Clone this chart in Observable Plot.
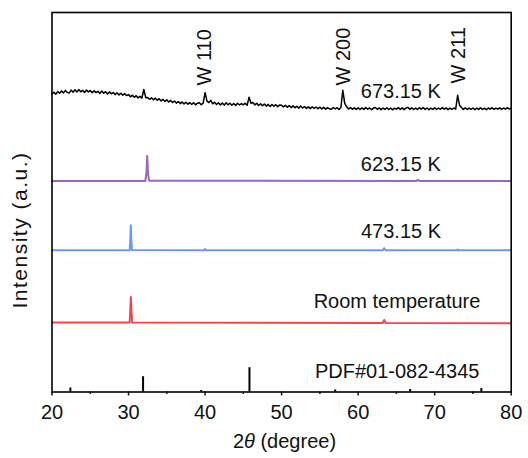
<!DOCTYPE html>
<html><head><meta charset="utf-8">
<script src="https://cdn.jsdelivr.net/npm/d3@7"></script>
<script src="https://cdn.jsdelivr.net/npm/@observablehq/plot@0.6"></script>
<style>body{margin:0;background:#fff}</style>
</head><body><div id="chart"></div>
<script>
// ---- data ----
const xTicks = [20, 30, 40, 50, 60, 70, 80];
const xMinorTicks = [25, 35, 45, 55, 65, 75];

// 673.15 K scan: intensities (a.u., offset) on a 0.25° grid from 20° to 80°
const scan673Start = 20, scan673Step = 0.25;
const scan673 = [
  298.0, 299.8, 297.9, 300.4, 298.7, 301.1, 299.1, 301.6, 299.6, 298.9, 301.9, 299.8, 302.2, 300.0, 302.4, 300.2, 301.7, 299.5, 302.0, 300.1,
  301.4, 299.2, 301.3, 299.4, 300.7, 298.5, 301.0, 298.8, 300.3, 298.0, 300.1, 298.2, 299.4, 297.4, 299.3, 297.1, 298.8, 296.8, 298.3, 296.4,
  297.4, 295.2, 296.8, 294.7, 296.3, 294.1, 295.7, 293.9, 302.5, 294.3, 294.4, 292.7, 294.2, 292.2, 293.8, 291.8, 293.3, 291.1, 292.7, 290.6,
  292.2, 290.0, 291.6, 289.5, 291.0, 288.9, 290.5, 288.4, 290.1, 288.1, 289.8, 287.8, 289.4, 287.5, 289.2, 287.2, 288.8, 289.3, 287.3, 288.9,
  299.3, 290.9, 289.4, 291.6, 288.2, 289.8, 287.5, 289.2, 287.1, 289.0, 286.9, 289.3, 287.2, 288.8, 286.8, 288.5, 286.6, 288.7, 287.0, 288.4,
  287.2, 288.8, 286.7, 294.8, 288.6, 289.5, 287.1, 288.7, 286.5, 288.2, 286.2, 287.9, 285.9, 287.6, 285.6, 287.5, 285.8, 287.3, 285.4, 287.1,
  286.7, 285.1, 286.8, 284.8, 286.4, 284.4, 286.1, 284.2, 285.8, 283.9, 285.9, 284.0, 285.5, 283.6, 285.3, 283.4, 285.1, 283.5, 285.0, 283.3,
  284.8, 283.1, 284.6, 282.9, 284.4, 283.2, 282.7, 284.5, 283.0, 284.3, 282.6, 284.6, 301.7, 288.6, 285.2, 283.0, 284.4, 282.7, 284.2, 282.6,
  284.2, 282.5, 284.1, 282.6, 284.5, 282.8, 284.0, 282.3, 283.9, 284.4, 282.7, 284.1, 282.4, 284.0, 282.6, 284.3, 282.5, 283.9, 282.2, 283.8,
  282.8, 284.4, 282.6, 284.1, 282.4, 284.0, 284.6, 282.7, 284.2, 282.5, 283.9, 282.6, 284.3, 282.8, 284.5, 282.6, 284.0, 282.3, 283.8, 282.7,
  284.2, 282.5, 284.0, 282.7, 284.4, 282.8, 284.1, 282.4, 283.9, 282.6, 284.0, 282.8, 296.7, 286.8, 284.5, 282.6, 284.1, 282.5, 283.9, 282.7,
  284.0, 282.4, 283.9, 282.6, 284.2, 282.7, 283.8, 282.3, 284.0, 282.8, 284.3, 282.6, 283.9, 282.8, 284.2, 282.7, 284.0, 282.9, 284.3, 283.0,
  283.7
];

// [2θ, intensity]
const scan623 = [[20,211],[32.2,211],[32.35,220],[32.44,236],[32.55,218],[32.7,211.3],[67.6,211],[67.8,212.2],[68.0,211],[80,211]];
const scan473 = [[20,141.7],[30.15,141.7],[30.22,150],[30.3,166.7],[30.38,150],[30.45,141.9],[39.85,141.7],[40.0,143.0],[40.15,141.7],
                 [63.2,141.7],[63.4,143.8],[63.6,141.7],[72.9,141.7],[73.0,142.5],[73.1,141.7],[80,141.7]];
const scanRT  = [[20,69.6],[30.15,69.4],[30.22,80],[30.3,95],[30.38,82],[30.48,69.5],[63.2,69],[63.4,72],[63.6,69],[80,68.8]];

// PDF#01-082-4345 reference sticks
const pdfPos = [22.4, 31.9, 39.5, 45.8, 57.0, 66.8, 76.1];
const pdfInt = [4, 15.3, 1.5, 24.3, 2, 2.5, 3.5];

const seriesLabels = ["673.15 K", "623.15 K", "473.15 K", "Room temperature", "PDF#01-082-4345"];
const seriesLabelX = [65.58, 65.58, 65.6, 65.08, 65.1];
const seriesLabelY = [300.1, 227.5, 160.5, 90.8, 20.8];

const peakLabels = ["W 110", "W 200", "W 211"];
const peakLabelX = [40.0, 58.15, 73.1];
const peakLabelY = [306.5, 306.5, 308.5];

// ---- build ----
const black = scan673.map((v, i) => ({x: scan673Start + i * scan673Step, y: v}));
const toXY = a => a.map(([x, y]) => ({x, y}));
const sticks = pdfPos.map((p, i) => ({x: p, y: pdfInt[i]}));
const sLabels = seriesLabels.map((t, i) => ({t, x: seriesLabelX[i], y: seriesLabelY[i]}));
const pLabels = peakLabels.map((t, i) => ({t, x: peakLabelX[i], y: peakLabelY[i]}));

const FONT = "'Liberation Sans', Arial, Helvetica, sans-serif";

const chart = Plot.plot({
  width: 528,
  height: 458,
  marginLeft: 51.5,
  marginRight: 17.3,
  marginTop: 12,
  marginBottom: 66.5,
  style: {fontFamily: FONT, fontSize: "20px", color: "#111", background: "#fff"},
  x: {domain: [20, 80]},
  y: {domain: [0, 379.5], axis: null},
  marks: [
    Plot.axisX(xTicks, {tickSize: 4, tickPadding: 9, strokeWidth: 1.5, fontSize: 20, label: null}),
    Plot.axisX(xMinorTicks, {tickSize: 2.5, strokeWidth: 1.5, tickFormat: () => "", label: null}),
    Plot.ruleX(sticks, {x: "x", y1: 0, y2: "y", stroke: "#000", strokeWidth: 2}),
    Plot.line(toXY(scanRT), {x: "x", y: "y", stroke: "#F0464E", strokeWidth: 2}),
    Plot.line(toXY(scan473), {x: "x", y: "y", stroke: "#6A98F2", strokeWidth: 2}),
    Plot.line(toXY(scan623), {x: "x", y: "y", stroke: "#9C66BC", strokeWidth: 2}),
    Plot.line(black, {x: "x", y: "y", stroke: "#000", strokeWidth: 1.5}),
    Plot.text(sLabels, {x: "x", y: "y", text: "t", fontSize: 20, fill: "#111"}),
    Plot.text(pLabels, {x: "x", y: "y", text: "t", fontSize: 20, rotate: -90, textAnchor: "start", fill: "#111"}),
    Plot.frame({stroke: "#000", strokeWidth: 1.6})
  ]
});

const svg = d3.select(chart);
const xt = svg.append("text")
  .attr("x", 284.5).attr("y", 448)
  .attr("text-anchor", "middle")
  .attr("font-size", 20).attr("fill", "#111");
xt.append("tspan").text("2");
xt.append("tspan").attr("font-style", "italic").text("θ");
xt.append("tspan").text(" (degree)");

svg.append("text")
  .attr("transform", "translate(27,230) rotate(-90)")
  .attr("text-anchor", "middle")
  .attr("font-size", 21)
  .attr("letter-spacing", "1.5px")
  .attr("fill", "#111")
  .text("Intensity (a.u.)");

document.getElementById("chart").appendChild(chart);
</script>
</body></html>
